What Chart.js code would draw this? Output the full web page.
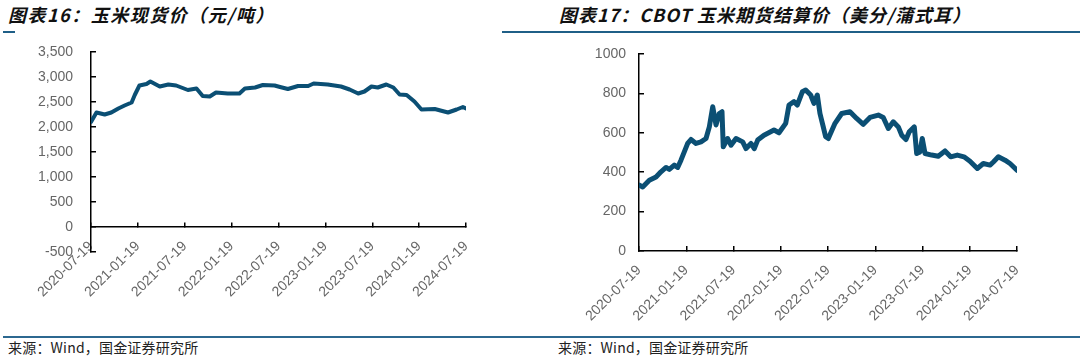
<!DOCTYPE html>
<html>
<head>
<meta charset="utf-8">
<script src="https://cdn.jsdelivr.net/npm/chart.js@4"></script>
<style>
  html,body{margin:0;padding:0;background:#fff;}
  body{width:1086px;height:357px;position:relative;overflow:hidden;}
  .title{position:absolute;font-family:"Noto Sans CJK SC","Noto Sans",sans-serif;font-weight:bold;font-style:italic;font-size:18px;line-height:20px;color:#111;white-space:nowrap;}
  .hl{position:absolute;height:2px;background:#1f5f87;}
  .fl{position:absolute;height:2px;background:#2c6890;}
  .src{position:absolute;font-family:"Noto Sans CJK SC",sans-serif;font-size:14px;line-height:14px;color:#222;white-space:nowrap;letter-spacing:0.2px;}
  canvas{position:absolute;}
</style>
</head>
<body>
<div class="title" style="left:8px;top:4px;letter-spacing:1.5px;">图表16：玉米现货价（元/吨）</div>
<div class="title" style="left:559px;top:4px;letter-spacing:1px;">图表17：CBOT 玉米期货结算价（美分/蒲式耳）</div>
<div class="hl" style="left:3px;top:31px;width:12px;"></div>
<div class="hl" style="left:502px;top:31px;width:578px;"></div>
<canvas id="c1" width="543" height="300" style="left:0;top:35px;"></canvas>
<canvas id="c2" width="543" height="300" style="left:543px;top:35px;"></canvas>
<div class="fl" style="left:3px;top:336px;width:1077px;"></div>
<div class="src" style="left:8px;top:340px;">来源：Wind，国金证券研究所</div>
<div class="src" style="left:558px;top:340px;">来源：Wind，国金证券研究所</div>
<script>
// x tick labels (one every 6 months)
const tickLabels = ['2020-07-19','2021-01-19','2021-07-19','2022-01-19','2022-07-19','2023-01-19','2023-07-19','2024-01-19','2024-07-19'];
const monthsPerTick = 6;

// 玉米现货价 (元/吨): time in months since 2020-07-19, value
const spotT = [0,0.7,1.75,2.6,3.5,4.3,5.2,5.6,6.2,7.1,7.6,8.8,9.9,10.9,12.4,13.5,14.3,15.2,16.0,17.5,19.0,19.7,21.0,22.0,23.5,24.2,25.2,26.5,27.8,28.5,30.3,32.0,33.1,34.2,35.0,35.9,36.7,37.8,38.7,39.5,40.4,41.4,42.3,44.0,45.7,46.8,47.6,48];
const spotV = [2100,2290,2250,2290,2370,2430,2490,2640,2830,2860,2910,2810,2850,2830,2740,2770,2620,2610,2690,2670,2670,2770,2790,2840,2830,2800,2760,2820,2820,2870,2850,2810,2750,2670,2710,2810,2790,2850,2790,2650,2640,2510,2350,2360,2290,2350,2400,2370];

// CBOT 玉米期货结算价 (美分/蒲式耳)
const cbotT = [0,0.47,1.31,2.16,2.79,3.43,3.85,4.48,4.91,5.33,5.75,6.18,6.6,7.24,7.87,8.51,8.93,9.36,9.78,10.2,10.54,10.7,11.26,11.68,12.32,13.17,13.59,14.22,14.64,15.07,15.87,17.14,17.78,18.63,19.05,19.68,20.1,20.74,21.17,21.8,22.22,22.64,22.98,23.4,23.7,24.04,24.89,25.74,26.79,27.64,28.48,29.33,30.39,31.02,31.66,32.29,32.93,33.36,33.9,34.32,34.96,35.26,35.68,35.97,36.32,37.17,38.0,38.86,39.58,40.42,41.27,42.03,42.96,43.72,44.57,45.0,45.63,46.48,47.11,48];
const cbotV = [335,325,359,376,402,424,414,436,424,461,503,546,566,546,554,571,630,732,640,698,707,529,571,537,571,554,520,546,520,563,588,614,600,648,741,758,741,808,817,792,749,792,698,630,580,571,648,698,707,673,643,678,690,678,622,656,630,588,566,605,630,495,503,571,495,487,481,508,478,487,478,456,419,444,436,452,478,461,444,410];

const LINE = '#0b4f74';
const TICKC = '#666666';
const FONT = 'Liberation Sans, Arial, sans-serif';

function zeroPad(s) { s.paddingTop = 0; s.paddingBottom = 0; s.paddingLeft = 0; s.paddingRight = 0; }

function makeChart(id, T, V, c) {
  const pts = T.map((t, i) => ({x: t, y: V[i]}));
  return new Chart(document.getElementById(id), {
    type: 'line',
    data: {datasets: [{data: pts, borderColor: LINE, borderWidth: c.lw, pointRadius: 0, tension: 0, fill: false, borderJoinStyle: 'round', borderCapStyle: 'round'}]},
    options: {
      responsive: false, animation: false, devicePixelRatio: 1,
      layout: {padding: {top: c.padTop, right: c.padRight, left: 0, bottom: c.padBottom}},
      plugins: {legend: {display: false}, tooltip: {enabled: false}},
      scales: {
        x: {
          type: 'linear', min: 0, max: (tickLabels.length - 1) * monthsPerTick,
          position: c.xPos,
          afterBuildTicks: s => { s.ticks = tickLabels.map((_, i) => ({value: i * monthsPerTick})); },
          afterFit: s => { s.height = c.xH; zeroPad(s); },
          ticks: {autoSkip: false, maxRotation: 45, minRotation: 45, padding: c.xPad, color: TICKC, font: {family: FONT, size: 14},
            callback: (v, i) => tickLabels[i]},
          grid: {drawOnChartArea: false, drawTicks: true, tickLength: -5, color: '#000', lineWidth: 1.5},
          border: {color: '#000', width: 1.5}
        },
        y: {
          min: c.yMin, max: c.yMax,
          afterFit: s => { s.width = c.yW; zeroPad(s); },
          ticks: {stepSize: c.yStep, padding: c.yPad, color: TICKC, font: {family: FONT, size: 14}, callback: c.fmt},
          grid: {drawOnChartArea: false, drawTicks: true, tickLength: -5, color: '#000', lineWidth: 1.5},
          border: {color: '#000', width: 1.5}
        }
      }
    }
  });
}

makeChart('c1', spotT, spotV, {
  lw: 4, padTop: 17, padRight: 77, padBottom: 83, xH: 0, yW: 91, xPos: {y: 0}, xPad: 16, yPad: 23,
  yMin: -500, yMax: 3500, yStep: 500, fmt: v => Number(v).toLocaleString('en-US')
});
makeChart('c2', cbotT, cbotV, {
  lw: 5, padTop: 19, padRight: 69, padBottom: 0, xH: 84, yW: 96, xPos: 'bottom', xPad: 16, yPad: 18,
  yMin: 0, yMax: 1000, yStep: 200, fmt: v => String(v)
});
</script>
</body>
</html>
